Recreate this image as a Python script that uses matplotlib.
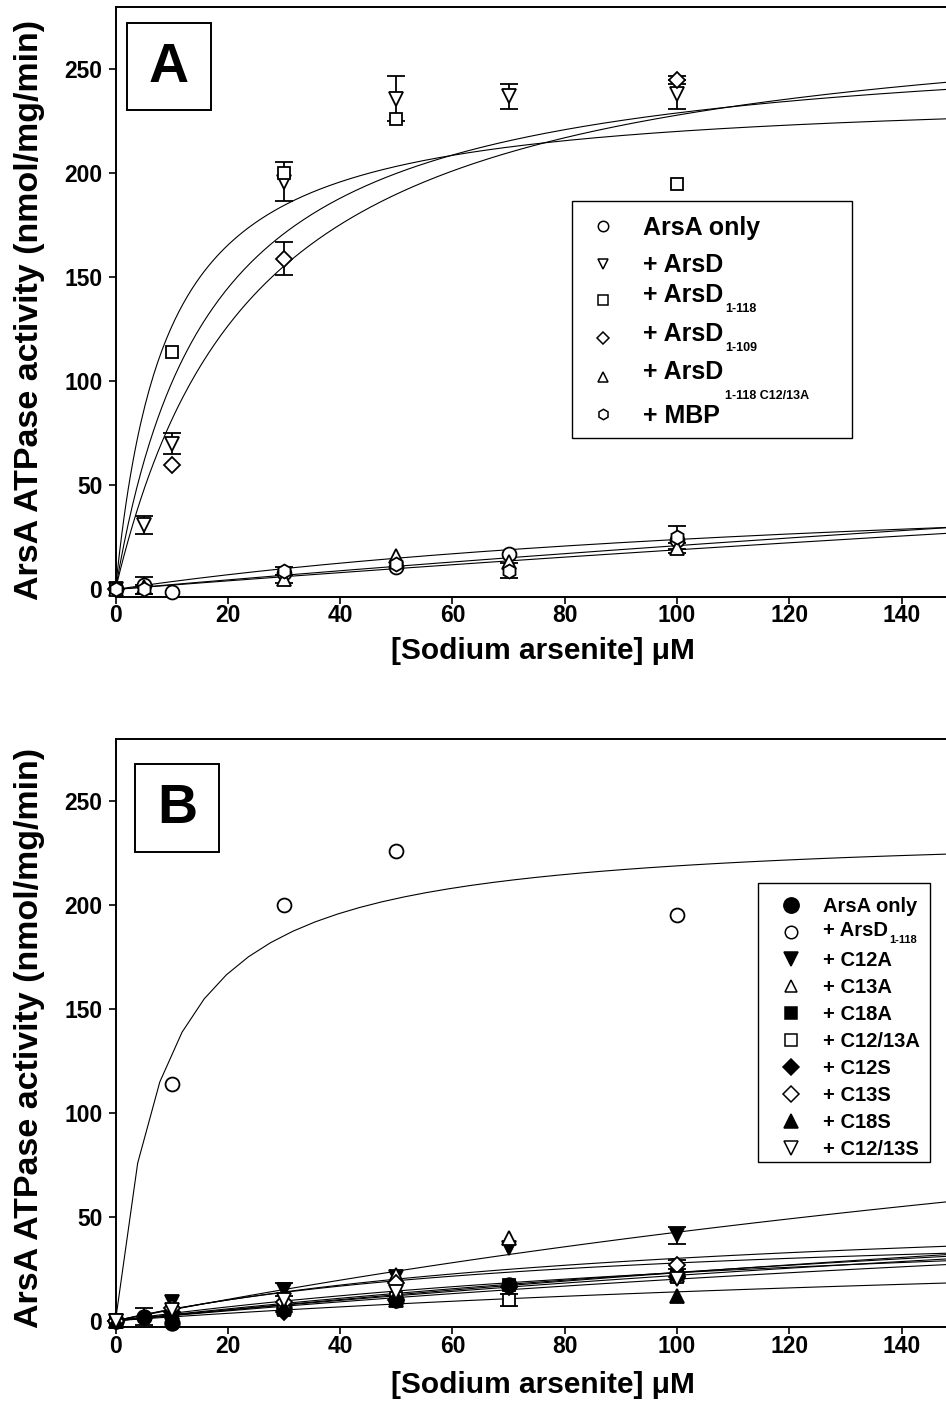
import numpy as np
import matplotlib
matplotlib.use("Agg")
import matplotlib.pyplot as plt
from matplotlib.patches import Rectangle
from matplotlib.lines import Line2D

plt.rcParams['font.family'] = ['Liberation Sans', 'DejaVu Sans']
plt.rcParams['font.weight'] = 'bold'

# ---------------- data : panel A ----------------
x_axis_ticks = [0, 20, 40, 60, 80, 100, 120, 140]
y_axis_ticks = [0, 50, 100, 150, 200, 250]

a_arsa_x = [0, 5, 10, 30, 50, 70, 100]
a_arsa_y = [0, 2, -1, 8, 11, 17, 24]
a_arsa_err = [0, 4, 0, 0, 0, 0, 0]

a_arsd_x = [0, 5, 10, 30, 50, 70, 100]
a_arsd_y = [0, 31, 70, 196, 236, 237, 238]
a_arsd_err = [0, 4.5, 5, 9.5, 11, 6, 7]

a_d118_x = [0, 10, 30, 50, 100]
a_d118_y = [0, 114, 200, 226, 195]
a_d118_err = [0, 0, 0, 0, 0]

a_d109_x = [0, 10, 30, 100]
a_d109_y = [0, 60, 159, 245]
a_d109_err = [0, 0, 8, 2]

a_c1213a_x = [0, 5, 30, 50, 70, 100]
a_c1213a_y = [0, 1, 5, 16, 13, 20]
a_c1213a_err = [0, 0, 2, 0, 0, 2.5]

a_mbp_x = [0, 5, 30, 50, 70, 100]
a_mbp_y = [0, 0, 9, 12, 9, 25]
a_mbp_err = [0, 2, 2, 0, 3.7, 5.5]

# Michaelis-Menten fit parameters (Vmax, Km)
a_fit_vmax = [60, 268, 240, 285, 200, 200]
a_fit_km = [150, 17, 9, 25, 850, 950]

a_labels = ["ArsA only", "+ ArsD", "+ ArsD", "+ ArsD", "+ ArsD", "+ MBP"]
a_subs = ["", "", "1-118", "1-109", "1-118 C12/13A", ""]

# ---------------- data : panel B ----------------
b_arsa_x = [0, 5, 10, 30, 50, 70, 100]
b_arsa_y = [0, 2, -1, 6, 10, 17, 22]
b_arsa_err = [0, 4, 0, 0, 0, 0, 0]

b_d118_x = [0, 10, 30, 50, 100]
b_d118_y = [0, 114, 200, 226, 195]
b_d118_err = [0, 0, 0, 0, 0]

b_c12a_x = [0, 10, 30, 50, 70, 100]
b_c12a_y = [0, 9, 15, 21, 35, 41]
b_c12a_err = [0, 0, 3, 0, 0, 4]

b_c13a_x = [0, 10, 30, 50, 70, 100]
b_c13a_y = [0, 6, 9, 22, 40, 22]
b_c13a_err = [0, 0, 0, 0, 0, 0]

b_c18a_x = [0, 10, 30, 50, 70, 100]
b_c18a_y = [0, 5, 6, 10, 17, 22]
b_c18a_err = [0, 0, 0, 0, 0, 0]

b_c1213a_x = [0, 10, 30, 50, 70, 100]
b_c1213a_y = [0, 4, 5, 11, 10, 21]
b_c1213a_err = [0, 0, 0, 0, 3, 0]

b_c12s_x = [0, 10, 30, 50, 70, 100]
b_c12s_y = [0, 4, 4, 10, 16, 21]
b_c12s_err = [0, 0, 0, 0, 0, 0]

b_c13s_x = [0, 10, 30, 50, 100]
b_c13s_y = [0, 6, 9, 18, 27]
b_c13s_err = [0, 0, 0, 0, 2]

b_c18s_x = [0, 10, 30, 50, 100]
b_c18s_y = [0, 4, 6, 10, 12]
b_c18s_err = [0, 0, 0, 0, 0]

b_c1213s_x = [0, 10, 30, 50, 100]
b_c1213s_y = [0, 5, 10, 14, 20]
b_c1213s_err = [0, 0, 0, 0, 0]

b_fit_vmax = [100, 237, 200, 60, 150, 100, 120, 50, 50, 60]
b_fit_km = [330, 8.4, 370, 100, 550, 400, 450, 80, 260, 160]

b_labels = ["ArsA only", "+ ArsD", "+ C12A", "+ C13A", "+ C18A",
            "+ C12/13A", "+ C12S", "+ C13S", "+ C18S", "+ C12/13S"]
b_subs = ["", "1-118", "", "", "", "", "", "", "", ""]

# ---------------- styles ----------------
a_markers = ['o', 'v', 's', 'D', '^', 'h']
a_sizes = [10, 10.5, 9, 8, 10, 10]
b_markers = ['o', 'o', 'v', '^', 's', 's', 'D', 'D', '^', 'v']
b_filled = [True, False, True, False, True, False, True, False, True, False]
b_sizes = [10.5, 10, 10.5, 10.5, 9, 9, 8, 8, 10.5, 10.5]

W, H = 946, 1426
fig = plt.figure(figsize=(W / 100, H / 100), dpi=100)


def fx(x):
    return x / W


def fy(y):
    return 1 - y / H


XMAX = 150
left_px, right_px = 115.5, 957.9
axA = fig.add_axes([fx(left_px), fy(596.5), (right_px - left_px) / W, (596.5 - 7) / H])
axB = fig.add_axes([fx(left_px), fy(1327), (right_px - left_px) / W, (1327 - 739) / H])


def style_axes(ax, ylo, yhi):
    ax.set_xlim(0, XMAX)
    ax.set_ylim(ylo, yhi)
    ax.set_xticks(x_axis_ticks)
    ax.set_yticks(y_axis_ticks)
    for s in ax.spines.values():
        s.set_linewidth(1.4)
    ax.tick_params(direction='out', length=5, width=1.2, labelsize=16.5)
    ax.tick_params(axis='x', pad=0.5)
    ax.tick_params(axis='y', pad=4.5)
    for lab in ax.get_xticklabels() + ax.get_yticklabels():
        lab.set_fontweight('bold')


def draw_series(ax, xs, ys, errs, marker, ms, filled):
    xs = np.asarray(xs, float)
    ys = np.asarray(ys, float)
    errs = np.asarray(errs, float)
    m = errs > 0
    if m.any():
        ax.errorbar(xs[m], ys[m], yerr=errs[m], fmt='none', ecolor='k',
                    elinewidth=1.3, capsize=6.5, capthick=1.3, zorder=3, clip_on=False)
    ax.plot(xs, ys, linestyle='none', marker=marker, ms=ms,
            mfc='black' if filled else 'white', mec='black', mew=1.3,
            zorder=4, clip_on=False)


# ---------------- panel A ----------------
style_axes(axA, -3.4, 280)
xa = np.linspace(0, XMAX, 400)
for V, K in zip(a_fit_vmax, a_fit_km):
    axA.plot(xa, V * xa / (K + xa), color='black', lw=0.8, zorder=2)

a_series = [
    (a_arsa_x, a_arsa_y, a_arsa_err),
    (a_arsd_x, a_arsd_y, a_arsd_err),
    (a_d118_x, a_d118_y, a_d118_err),
    (a_d109_x, a_d109_y, a_d109_err),
    (a_c1213a_x, a_c1213a_y, a_c1213a_err),
    (a_mbp_x, a_mbp_y, a_mbp_err),
]
for (xs, ys, es), mk, ms in zip(a_series, a_markers, a_sizes):
    draw_series(axA, xs, ys, es, mk, ms, False)

# ---------------- panel B ----------------
style_axes(axB, -3, 279.6)
xb = np.linspace(0, XMAX, 39)
for V, K in zip(b_fit_vmax, b_fit_km):
    axB.plot(xb, V * xb / (K + xb), color='black', lw=0.8, zorder=2)

b_series = [
    (b_arsa_x, b_arsa_y, b_arsa_err),
    (b_d118_x, b_d118_y, b_d118_err),
    (b_c12a_x, b_c12a_y, b_c12a_err),
    (b_c13a_x, b_c13a_y, b_c13a_err),
    (b_c18a_x, b_c18a_y, b_c18a_err),
    (b_c1213a_x, b_c1213a_y, b_c1213a_err),
    (b_c12s_x, b_c12s_y, b_c12s_err),
    (b_c13s_x, b_c13s_y, b_c13s_err),
    (b_c18s_x, b_c18s_y, b_c18s_err),
    (b_c1213s_x, b_c1213s_y, b_c1213s_err),
]
for (xs, ys, es), mk, ms, fl in zip(b_series, b_markers, b_sizes, b_filled):
    draw_series(axB, xs, ys, es, mk, ms, fl)

# ---------------- axis labels ----------------
ylab = "ArsA ATPase activity (nmol/mg/min)"
xlab = "[Sodium arsenite] \u03bcM"
fig.text(fx(30), fy(310), ylab, rotation=90, ha='center', va='center',
         fontsize=24.5, fontweight='bold')
fig.text(fx(30), fy(1038), ylab, rotation=90, ha='center', va='center',
         fontsize=24.5, fontweight='bold')
fig.text(fx(543), fy(651), xlab, ha='center', va='center', fontsize=21.5, fontweight='bold')
fig.text(fx(543), fy(1385), xlab, ha='center', va='center', fontsize=21.5, fontweight='bold')

# ---------------- panel letters ----------------
for (x0, y0, x1, y1), letter in [((127, 23, 211, 110), "A"), ((135, 764, 219, 852), "B")]:
    fig.add_artist(Rectangle((fx(x0), fy(y1)), (x1 - x0) / W, (y1 - y0) / H,
                             transform=fig.transFigure, fill=False, ec='black', lw=1.4))
    fig.text(fx((x0 + x1) / 2), fy((y0 + y1) / 2 + 1), letter, ha='center', va='center',
             fontsize=40, fontweight='bold')

renderer = fig.canvas.get_renderer()


def legend_row(mx, my, marker, ms, filled, tx, ty, main, sub, size, subsize, sub_dy):
    fig.add_artist(Line2D([fx(mx)], [fy(my)], transform=fig.transFigure, marker=marker,
                          ms=ms, mfc='black' if filled else 'white', mec='black', mew=1.1,
                          linestyle='none'))
    cap = size / 72 * 100 * 0.716
    t = fig.text(fx(tx), fy(ty + cap / 2), main, ha='left', va='baseline',
                 fontsize=size, fontweight='bold')
    if sub:
        bb = t.get_window_extent(renderer=renderer)
        fig.text(bb.x1 / W + 1.5 / W, fy(ty + cap / 2 + sub_dy), sub, ha='left',
                 va='baseline', fontsize=subsize, fontweight='bold')


# legend A
fig.add_artist(Rectangle((fx(572), fy(438)), (852 - 572) / W, (438 - 201) / H,
                         transform=fig.transFigure, fill=False, ec='black', lw=1.0))
a_leg_my = [226, 264, 300, 338, 377, 414]
a_leg_ty = [226, 263, 293, 332, 370, 414]
a_leg_sdy = [0, 0, 10, 10, 20, 0]
a_leg_ms = [7.5, 7.5, 7, 6.5, 7.5, 7.5]
for i in range(6):
    legend_row(603, a_leg_my[i], a_markers[i], a_leg_ms[i], False, 643, a_leg_ty[i],
               a_labels[i], a_subs[i], 18, 9, a_leg_sdy[i])

# legend B
fig.add_artist(Rectangle((fx(758), fy(1162)), (930 - 758) / W, (1162 - 883) / H,
                         transform=fig.transFigure, fill=False, ec='black', lw=1.0))
b_leg_ms = [11, 9, 10, 9, 9, 8, 8, 8, 9.5, 9.5]
for i in range(10):
    yy = 905 + 27 * i
    ty = yy - 3 if b_subs[i] else yy
    legend_row(791, yy, b_markers[i], b_leg_ms[i], b_filled[i], 823, ty,
               b_labels[i], b_subs[i], 14.5, 8, 7)

fig.savefig("out.png", dpi=100)
